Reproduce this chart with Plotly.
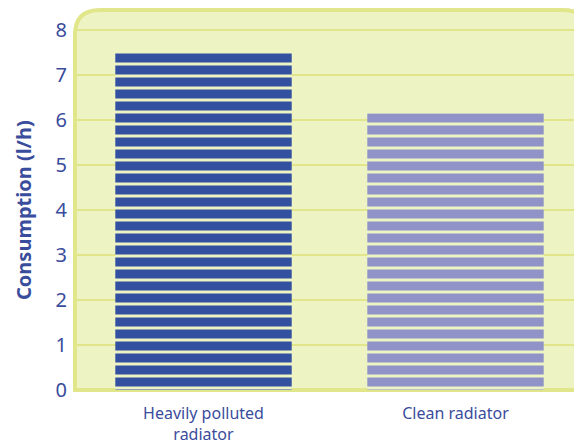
import plotly.graph_objects as go

categories = ["Heavily polluted<br>radiator", "Clean radiator"]
consumption = [7.53, 6.15]
bar_colors = ["#3350a0", "#8f93c8"]
y_ticks = [0, 1, 2, 3, 4, 5, 6, 7, 8]
y_title = "Consumption (l/h)"

PANEL = "#eef3c4"
BORDER = "#e1e68b"
TEXT = "#3a4c9c"
FONT = "Noto Sans"

W, H = 574, 444
ML, MR, MT, MB = 75, 0, 10, 54
pw = W - ML - MR
ph = H - MT - MB

fig = go.Figure()
for i, (cat, val, col) in enumerate(zip(categories, consumption, bar_colors)):
    fig.add_trace(go.Bar(
        x=[i], y=[val], width=0.70,
        marker=dict(
            color=col, line=dict(width=0),
            pattern=dict(shape="-", fillmode="replace", fgcolor=PANEL, bgcolor=col,
                         fgopacity=1, size=12, solidity=0.25),
        ),
        hoverinfo="skip",
    ))

# rounded panel
rx = 25 / pw
ry = 25 / ph
xr = (588 - ML) / pw
path = (f"M 0,0 L 0,{1-ry} Q 0,1 {rx},1 L {xr-rx},1 Q {xr},1 {xr},{1-ry} "
        f"L {xr},0 Z")
fig.add_shape(type="path", path=path, xref="paper", yref="paper",
              fillcolor=PANEL, line=dict(color=BORDER, width=4), layer="below")

# y-axis title as annotation for exact placement
fig.add_annotation(text=f"<b>{y_title}</b>", textangle=-90,
                   xref="paper", yref="paper",
                   x=(23 - ML) / pw, y=(390 - 210) / ph,
                   xanchor="center", yanchor="middle", showarrow=False,
                   font=dict(size=20, color=TEXT, family=FONT))

fig.update_layout(
    width=W, height=H,
    margin=dict(l=ML, r=MR, t=MT, b=MB, autoexpand=False),
    paper_bgcolor="white", plot_bgcolor="rgba(0,0,0,0)",
    showlegend=False, barmode="overlay",
    font=dict(family=FONT, color=TEXT),
)
fig.update_xaxes(
    range=[-128.5 / 252, -128.5 / 252 + pw / 252],
    tickvals=[0, 1], ticktext=categories,
    tickfont=dict(size=16, color=TEXT, family=FONT),
    showgrid=False, zeroline=False, showline=False, ticks="",
    ticklabelstandoff=12,
)
fig.update_yaxes(
    range=[0, ph / 45], tickvals=y_ticks,
    tickfont=dict(size=20, color=TEXT, family=FONT),
    showgrid=True, gridcolor=BORDER, gridwidth=2,
    zeroline=False, showline=False, ticks="", ticklabelstandoff=7,
)

fig.write_html("out.html", config={"displayModeBar": False},
               post_script="document.body.style.margin='0';document.body.style.overflow='hidden';")
